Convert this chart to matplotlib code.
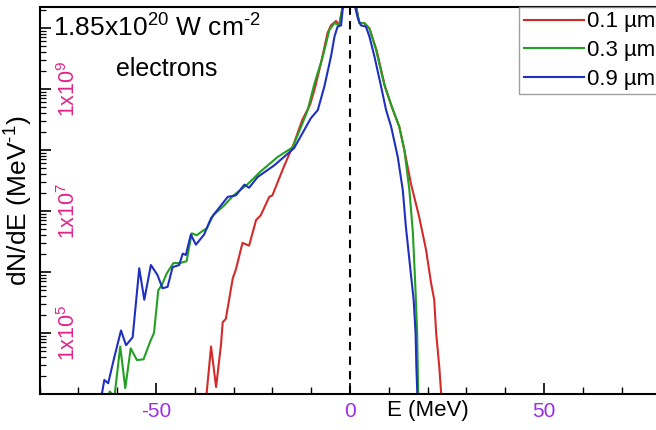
import matplotlib
matplotlib.use("Agg")
import matplotlib.pyplot as plt
from matplotlib.ticker import LogLocator, MultipleLocator, NullFormatter
import numpy as np

plt.rcParams['font.family'] = ['Liberation Sans', 'DejaVu Sans']
plt.rcParams['mathtext.fontset'] = 'custom'
plt.rcParams['mathtext.rm'] = 'Liberation Sans'
plt.rcParams['mathtext.it'] = 'Liberation Sans'

# ---- data (E in MeV, dN/dE in MeV^-1) ----
E_01 = [-37.1, -35.8, -34.5, -33.2, -32.8, -32.0, -30.2, -29.4, -27.7, -26.0, -24.2, -23.0,
        -20.8, -20.0, -17.0, -14.4, -12.3, -10.3, -9.1, -7.5, -5.8, -4.9, -3.6, -2.8, -1.9,
        0.0, 1.6, 2.4, 3.7, 5.0, 6.9, 9.0, 10.8, 12.7, 14.0, 15.7, 17.8, 19.6, 20.9, 21.7,
        22.2, 23.0, 23.6]
Y_01 = [8e3, 6.0e4, 1.3e4, 6.8e4, 1.5e5, 1.7e5, 7.9e5, 1.1e6, 3.0e6, 2.7e6, 7.1e6, 8.5e6,
        1.7e7, 1.8e7, 5.4e7, 1.3e8, 3.1e8, 5.5e8, 1.0e9, 2.6e9, 8.2e9, 1.1e10, 1.3e10, 1.1e10, 2.2e10,
        5e10, 2.2e10, 1.2e10, 1.2e10, 9.8e9, 4.2e9, 1.1e9, 5.0e8, 2.4e8, 1.0e8, 2.8e7, 8.1e6, 2.3e6, 6.5e5, 3.5e5,
        1.0e5, 2.8e4, 8e3]

E_03 = [-62.6, -61.9, -60.7, -59.2, -57.9, -56.5, -54.9, -53.2, -51.5, -50.5, -49.4, -48.5,
        -47.2, -45.5, -43.8, -42.1, -40.8, -39.5, -38.2, -36.9, -35.2, -32.6, -30.0, -26.5,
        -23.1, -18.6, -14.8, -12.6, -10.9, -9.2, -7.0, -5.3, -4.0, -2.8, -1.9,
        0.0, 1.6, 2.4, 3.7, 5.0, 6.7, 8.8, 10.6, 12.7, 14.0, 15.3, 16.2, 16.8, 17.3, 17.6]
Y_03 = [8e3, 1.1e4, 9e3, 6.0e4, 1.25e4, 5.6e4, 3.6e4, 3.7e4, 7.2e4, 1.0e5, 5.0e5, 6.1e5,
        9.5e5, 1.4e6, 1.4e6, 1.5e6, 4.3e6, 4.0e6, 4.6e6, 5.2e6, 8.6e6, 1.2e7, 1.8e7, 2.7e7,
        4.4e7, 7.7e7, 1.1e8, 2.4e8, 4.5e8, 1.2e9, 3.4e9, 9.3e9, 1.2e10, 1.1e10, 2.2e10,
        5e10, 2.2e10, 1.2e10, 1.2e10, 9.8e9, 4.4e9, 1.2e9, 5.5e8, 2.4e8, 1.0e8, 2.2e7, 4.4e6, 6.6e5, 1.0e5, 8e3]

E_09 = [-64.2, -63.3, -62.3, -60.9, -59.0, -57.7, -56.0, -54.3, -53.0, -51.3, -49.6, -48.3,
        -47.0, -45.7, -44.0, -43.1, -42.3, -41.0, -39.7, -37.6, -35.8, -34.1, -31.5, -29.4,
        -27.2, -26.0, -23.8, -19.5, -14.4, -10.1, -8.3, -6.6, -4.9, -4.0, -3.2, -2.3, -1.9,
        0.0, 2.0, 2.8, 4.1, 5.0, 6.3, 8.0, 9.3, 10.6, 12.3, 13.6, 14.4, 15.5, 16.4, 16.9, 17.1, 17.4]
Y_09 = [8e3, 1.7e4, 1.5e4, 3.6e4, 1.1e5, 6.3e4, 8.5e4, 1.15e6, 3.5e5, 1.3e6, 8.9e5, 5.4e5,
        5.7e5, 1.2e6, 1.3e6, 2.0e6, 1.9e6, 4.1e6, 2.8e6, 4.1e6, 7.6e6, 1.05e7, 1.7e7, 1.8e7,
        2.7e7, 2.4e7, 3.6e7, 5.6e7, 1.07e8, 3.3e8, 4.5e8, 1.1e9, 3.4e9, 7.2e9, 1.05e10, 1.1e10, 2.0e10,
        5e10, 1.45e10, 1.1e10, 1.05e10, 7.2e9, 3.4e9, 1.1e9, 4.5e8, 2.4e8, 7.7e7, 2.2e7, 5.5e6, 1.2e6, 3.5e5, 1.0e5, 2.8e4, 8e3]

series = [("0.1 µm", E_01, Y_01, "#d42a2a"),
          ("0.3 µm", E_03, Y_03, "#23a023"),
          ("0.9 µm", E_09, Y_09, "#1f30c0")]

x_ticks = [-50, 0, 50]
x_ticklabels = ["-50", "0", "50"]
y_label_vals = [1e5, 1e7, 1e9]
y_label_txt = [r"1x10$^{5}$", r"1x10$^{7}$", r"1x10$^{9}$"]

W, H = 656, 430
fig = plt.figure(figsize=(W / 100, H / 100), dpi=100)
ax = fig.add_axes([39.5 / W, (H - 394) / H, 621 / W, 387 / H])

for lab, e, y, c in series:
    ax.plot(e, y, color=c, lw=1.5, label=lab, solid_joinstyle="round")

ax.axvline(0, color="black", lw=1.5, ls=(0, (4, 3)))

ax.set_yscale("log")
ax.set_xlim(-80, 80)
ax.set_ylim(1e4, 2.2e10)

ax.xaxis.set_major_locator(MultipleLocator(50))
ax.xaxis.set_minor_locator(MultipleLocator(10))
ax.set_xticks(x_ticks)
ax.set_xticklabels(x_ticklabels)
ax.tick_params(axis="x", which="major", direction="in", length=8, width=1.2,
               labelsize=15, labelcolor="#9a2ee6", pad=6)
ax.tick_params(axis="x", which="minor", direction="in", length=5, width=1.0)

ax.yaxis.set_major_locator(LogLocator(base=10, numticks=20))
ax.yaxis.set_minor_locator(LogLocator(base=10, subs=np.arange(2, 10), numticks=20))
ax.yaxis.set_major_formatter(NullFormatter())
ax.yaxis.set_minor_formatter(NullFormatter())
ax.tick_params(axis="y", which="major", direction="in", length=8, width=1.2)
ax.tick_params(axis="y", which="minor", direction="in", length=4, width=0.9)

for v, t in zip(y_label_vals, y_label_txt):
    ax.text(0.046, v, t, transform=ax.get_yaxis_transform(), rotation=90,
            ha="center", va="center", fontsize=15.5, color="#e2238a")

for s in ["left", "bottom", "top"]:
    ax.spines[s].set_linewidth(1.5)
ax.spines["right"].set_visible(False)

ax.set_ylabel(r"dN/dE (MeV$^{\text{-}1}$)", fontsize=19)
ax.yaxis.set_label_coords(-0.008, 0.5)
ax.set_xlabel("E (MeV)", fontsize=16)
ax.xaxis.set_label_coords(0.626, -0.015)

ax.text(0.022, 0.945, r"1.85x10$^{20}$ W cm$^{\text{-}2}$", transform=ax.transAxes,
        fontsize=19, ha="left", va="center")
ax.text(0.205, 0.84, "electrons", transform=ax.transAxes,
        fontsize=18, ha="center", va="center")

leg = ax.legend(loc="upper right", bbox_to_anchor=(0.999, 1.0), borderaxespad=0,
                fontsize=16, frameon=True, fancybox=False, edgecolor="#888888",
                handlelength=2.7, handletextpad=0.15, labelspacing=0.35,
                borderpad=0.2)
leg.get_frame().set_linewidth(1.0)

fig.savefig("out.png", dpi=100)
